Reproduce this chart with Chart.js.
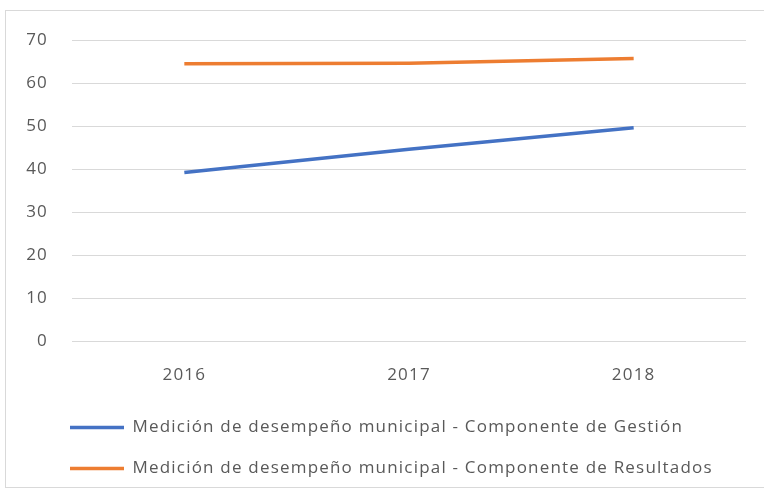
<!DOCTYPE html>
<html>
<head>
<meta charset="utf-8">
<script src="https://cdn.jsdelivr.net/npm/chart.js@4/dist/chart.umd.min.js"></script>
<style>
  html, body { margin: 0; padding: 0; background: #ffffff; }
  #wrap { position: relative; width: 764px; height: 497px; overflow: hidden; }
  #frame { position: absolute; left: 5px; top: 10px; width: 790px; height: 478px; border: 1.5px solid #d9d9d9; box-sizing: border-box; }
  canvas { position: absolute; left: 0; top: 0; }
</style>
</head>
<body>
<div id="wrap">
  <div id="frame"></div>
  <canvas id="c" width="764" height="497"></canvas>
</div>
<script>
const categories = ['2016', '2017', '2018'];
const gestionValues = [39.2, 44.6, 49.6];
const resultadosValues = [64.5, 64.6, 65.7];
const seriesNames = [
  'Medición de desempeño municipal - Componente de Gestión',
  'Medición de desempeño municipal - Componente de Resultados'
];
const yTicks = [0, 10, 20, 30, 40, 50, 60, 70];

const textColor = '#595959';
const fontFamily = "'Open Sans', 'Liberation Sans', sans-serif";

const spacingPlugin = {
  id: 'spacing',
  beforeUpdate(chart) { chart.ctx.letterSpacing = '1.2px'; },
  beforeDraw(chart) { chart.ctx.letterSpacing = '1.2px'; },
  afterLayout(chart) {
    // shift legend so its rows start under the plot area
    if (chart.legend) { chart.legend.left += 46; chart.legend.right += 46; }
  }
};

new Chart(document.getElementById('c'), {
  type: 'line',
  data: {
    labels: categories,
    datasets: [
      { label: seriesNames[0], data: gestionValues, borderColor: '#4472C4', backgroundColor: '#4472C4', borderWidth: 3.5, pointRadius: 0, tension: 0 },
      { label: seriesNames[1], data: resultadosValues, borderColor: '#ED7D31', backgroundColor: '#ED7D31', borderWidth: 3.5, pointRadius: 0, tension: 0 }
    ]
  },
  plugins: [spacingPlugin],
  options: {
    responsive: false,
    animation: false,
    layout: { padding: { left: 0, right: 18, top: 40, bottom: 10 } },
    plugins: {
      tooltip: { enabled: false },
      legend: {
        position: 'bottom',
        align: 'start',
        labels: {
          usePointStyle: true,
          pointStyle: 'line',
          pointStyleWidth: 54,
          padding: 24,
          color: textColor,
          font: { family: fontFamily, size: 17 }
        }
      }
    },
    scales: {
      x: {
        offset: true,
        grid: { display: false, drawTicks: false },
        border: { display: false },
        ticks: { color: textColor, padding: 24, font: { family: fontFamily, size: 17 } },
        afterFit: (s) => { s.height = 54; }
      },
      y: {
        min: 0, max: 70,
        afterBuildTicks: (s) => { s.ticks = yTicks.map(v => ({ value: v })); },
        grid: { color: '#d9d9d9', lineWidth: 1, drawTicks: false },
        border: { display: false },
        ticks: { color: textColor, padding: 24, font: { family: fontFamily, size: 17 } },
        afterFit: (s) => { s.width = 72; }
      }
    }
  }
});
</script>
</body>
</html>
